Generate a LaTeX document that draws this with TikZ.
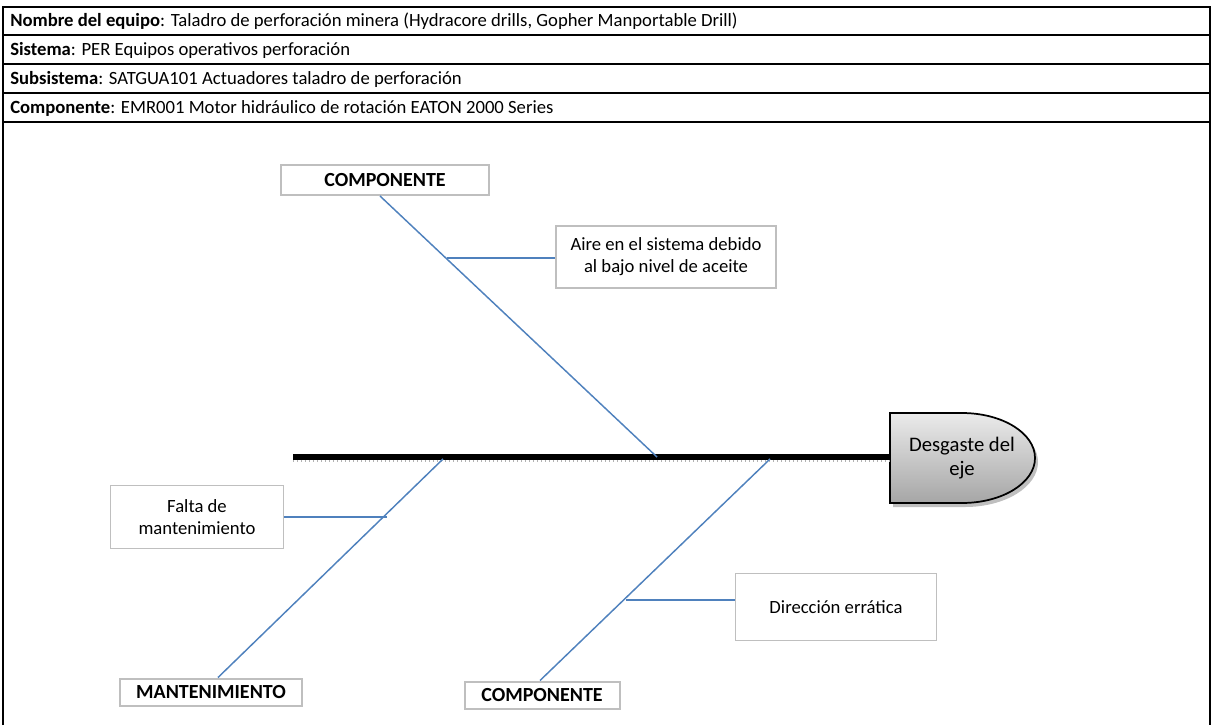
\documentclass[tikz,border=0pt]{standalone}
\usepackage{fontspec}
\setmainfont{Carlito}
\usetikzlibrary{positioning,calc}

\definecolor{bonecol}{RGB}{79,129,189}
\definecolor{boxcol}{RGB}{191,191,191}

\begin{document}
\begin{tikzpicture}[x=0.75pt,y=-0.75pt,
    hdr/.style={anchor=west,font=\fontsize{14}{16}\selectfont,inner sep=0pt},
    catbox/.style={draw=boxcol,line width=1.5pt,fill=white,align=center,font=\fontsize{15}{17}\selectfont\bfseries,inner sep=0pt},
    causebox/.style={draw=boxcol,line width=1.2pt,fill=white,align=center,font=\fontsize{14}{16.5}\selectfont,inner sep=0pt},
    bone/.style={bonecol,line width=1.1pt},
    twig/.style={bonecol,line width=1.6pt},
    spine/.style={black,line width=4pt}]
      \useasboundingbox (0,0) rectangle (1212,725);

      % header table
      \draw[line width=0.8pt] (3,725) -- (3,7) -- (1210,7) -- (1210,725);
      \foreach \yy in {35,64,93,122}
        \draw[line width=0.8pt] (3,\yy) -- (1210,\yy);
      \node[hdr] (nombre) at (10,21) {\textbf{Nombre del equipo}: Taladro de perforación minera (Hydracore drills, Gopher Manportable Drill)};
      \node[hdr] (sistema) at (10,50) {\textbf{Sistema}: PER Equipos operativos perforación};
      \node[hdr] (subsis) at (10,79) {\textbf{Subsistema}: SATGUA101 Actuadores taladro de perforación};
      \node[hdr] (compo) at (10,108) {\textbf{Componente}: EMR001 Motor hidráulico de rotación EATON 2000 Series};

      % head of the fish
      \fill[black!25] (893,417) -- (965,417) arc[start angle=-90,end angle=90,x radius=73,y radius=45] -- (893,507) -- cycle;
      \shade[top color=black!8,bottom color=black!35,draw=black,line width=1.3pt]
        (890,413) -- (962,413) arc[start angle=-90,end angle=90,x radius=73,y radius=45] -- (890,503) -- cycle;
      \node[font=\fontsize{15.5}{17.5}\selectfont,align=center] (head) at (962,458) {Desgaste del\\eje};

      % spine
      \coordinate (tail) at (293,457);
      \coordinate (hw) at (890,457);
      \draw[black!30,line width=1pt,dotted] ($(tail)+(0,4)$) -- ($(hw)+(0,4)$);
      \draw[spine] (tail) -- (hw);
      \coordinate (s1) at (657,457);
      \coordinate (s2) at (443,459);
      \coordinate (s3) at (770,459);

      % category boxes
      \node[catbox,minimum width=208*0.75pt,minimum height=30*0.75pt] (comp1) at (385,180) {COMPONENTE};
      \node[catbox,minimum width=182*0.75pt,minimum height=27*0.75pt] (mant) at (211,692) {MANTENIMIENTO};
      \node[catbox,minimum width=155*0.75pt,minimum height=27*0.75pt] (comp2) at (542,695) {COMPONENTE};

      % cause boxes
      \node[causebox,minimum width=220*0.75pt,minimum height=62*0.75pt] (aire) at (666,257) {Aire en el sistema debido\\al bajo nivel de aceite};
      \node[causebox,minimum width=173*0.75pt,minimum height=63*0.75pt] (falta) at (197,517) {Falta de\\mantenimiento};
      \node[causebox,minimum width=201*0.75pt,minimum height=67*0.75pt] (direc) at (836,607) {Dirección errática};

      % bones
      \draw[bone] ($(comp1.south)+(-5,0)$) -- (s1);
      \draw[bone] ($(mant.north)+(7,0)$) -- (s2);
      \draw[bone] ($(comp2.north)+(-2,0)$) -- (s3);

      % twigs
      \coordinate (j1) at (447,258);
      \coordinate (j2) at (387,517);
      \coordinate (j3) at (626,600);
      \draw[twig] (j1) -- (aire.west |- j1);
      \draw[twig] (j2) -- (falta.east |- j2);
      \draw[twig] (j3) -- (direc.west |- j3);
\end{tikzpicture}
\end{document}
